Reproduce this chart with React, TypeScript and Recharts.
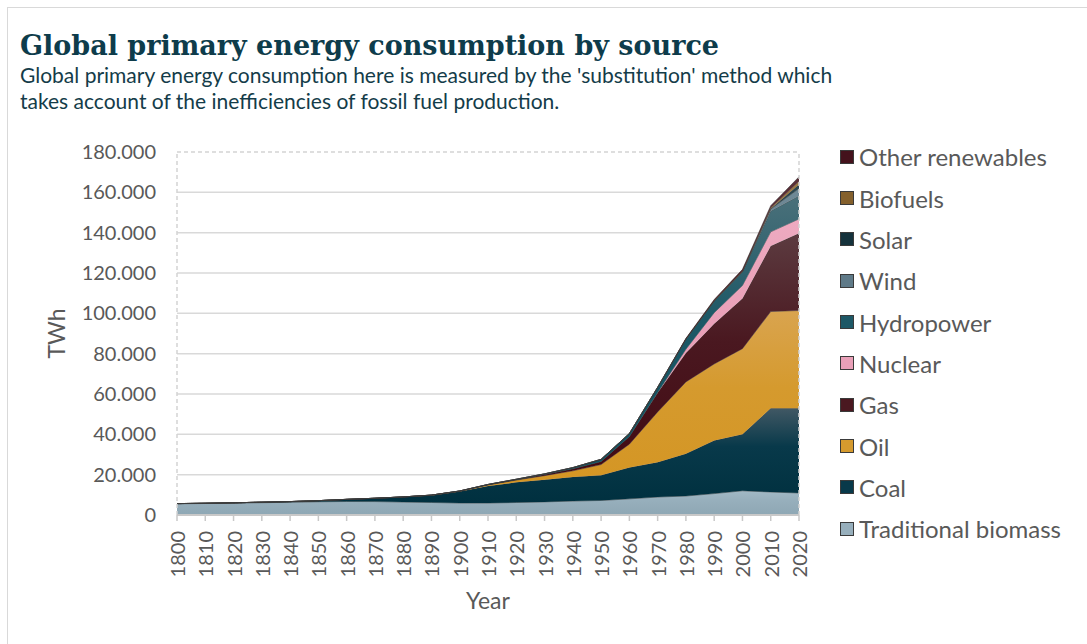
import React from 'react';
import { AreaChart, Area, XAxis, YAxis, CartesianGrid, ReferenceLine } from 'recharts';

// decade points, TWh (substitution method)
const years = [1800, 1810, 1820, 1830, 1840, 1850, 1860, 1870, 1880, 1890, 1900, 1910, 1920, 1930, 1940, 1950, 1960, 1970, 1980, 1990, 2000, 2010, 2020];

const traditionalBiomass = [5556, 5700, 5900, 6100, 6300, 6550, 6700, 6650, 6400, 6200, 5900, 5900, 6200, 6500, 6900, 7200, 8000, 8900, 9400, 10600, 12000, 11400, 10900];
const coal = [97, 130, 150, 260, 360, 570, 1060, 1640, 2540, 3520, 5730, 8500, 10000, 11000, 12000, 12500, 15500, 17200, 21000, 26300, 28000, 41500, 42000];
const oil = [0, 0, 0, 0, 0, 0, 0, 10, 30, 90, 180, 500, 1100, 2000, 3000, 5300, 11600, 25000, 35600, 38000, 42500, 48000, 48500];
const gas = [0, 0, 0, 0, 0, 0, 0, 0, 0, 60, 60, 150, 230, 550, 1000, 1500, 3800, 9500, 14300, 19900, 24800, 32500, 38300];
const nuclear = [0, 0, 0, 0, 0, 0, 0, 0, 0, 0, 0, 0, 0, 0, 0, 0, 0, 200, 1900, 5500, 6500, 7000, 7100];
const hydropower = [0, 0, 0, 0, 0, 0, 0, 0, 0, 0, 50, 100, 200, 350, 600, 1100, 1500, 2500, 5000, 5800, 6800, 10300, 11500];
const wind = [0, 0, 0, 0, 0, 0, 0, 0, 0, 0, 0, 0, 0, 0, 0, 0, 0, 0, 0, 10, 100, 1000, 3600];
const solar = [0, 0, 0, 0, 0, 0, 0, 0, 0, 0, 0, 0, 0, 0, 0, 0, 0, 0, 0, 0, 5, 100, 2000];
const biofuels = [0, 0, 0, 0, 0, 0, 0, 0, 0, 0, 0, 0, 0, 0, 0, 0, 0, 0, 100, 200, 300, 600, 1600];
const otherRenewables = [0, 0, 0, 0, 0, 0, 0, 0, 0, 0, 0, 0, 0, 0, 0, 0, 0, 100, 300, 500, 800, 1000, 2200];

const yTicks = [0, 20000, 40000, 60000, 80000, 100000, 120000, 140000, 160000, 180000];

// bottom to top, with gradient stops (top colour, mid colour, bottom colour)
const series = [
  { key: 'trad', name: 'Traditional biomass', values: traditionalBiomass, colors: ['#a2b9c5', '#97afbc', '#8ea7b4'] },
  { key: 'coal', name: 'Coal', values: coal, colors: ['#415864', '#08394a', '#00303f'] },
  { key: 'oil', name: 'Oil', values: oil, colors: ['#d9a44f', '#d59a2e', '#d49522'] },
  { key: 'gas', name: 'Gas', values: gas, colors: ['#5c3b40', '#4a1820', '#400710'] },
  { key: 'nuclear', name: 'Nuclear', values: nuclear, colors: ['#eeaac0', '#e9a0b8', '#e597b0'] },
  { key: 'hydro', name: 'Hydropower', values: hydropower, colors: ['#4a707a', '#1d5866', '#0a4f5e'] },
  { key: 'wind', name: 'Wind', values: wind, colors: ['#6f8996', '#5f7a88', '#55707e'] },
  { key: 'solar', name: 'Solar', values: solar, colors: ['#2c4750', '#15323c', '#0a2730'] },
  { key: 'biofuels', name: 'Biofuels', values: biofuels, colors: ['#9a7842', '#84602c', '#74511c'] },
  { key: 'other', name: 'Other renewables', values: otherRenewables, colors: ['#5a3038', '#44121c', '#3a0812'] },
];

const rows = years.map((year, i) => {
  const row: Record<string, number> = { year };
  series.forEach(s => { row[s.key] = s.values[i]; });
  return row;
});

const grey = '#595959';
const fmt = (v: number) => (v === 0 ? '0' : v.toLocaleString('de-DE'));

const YearTick = (props: any) => {
  const { x, y, payload } = props;
  return (
    <text
      x={x}
      y={y}
      transform={`rotate(-90, ${x}, ${y})`}
      textAnchor="end"
      dominantBaseline="central"
      fill={grey}
      fontSize={20}
      fontFamily="Lato"
    >
      {payload.value}
    </text>
  );
};

export default function App() {
  return (
    <div
      style={{
        position: 'absolute',
        left: 7,
        top: 7,
        width: 1080,
        height: 637,
        boxSizing: 'border-box',
        borderLeft: '1px solid #d9d9d9',
        borderTop: '1px solid #d9d9d9',
        background: '#fff',
        overflow: 'hidden',
        fontFamily: 'Lato',
      }}
    >
      <div
        style={{
          position: 'absolute',
          left: 12,
          top: 24,
          fontFamily: '"DejaVu Serif"',
          fontWeight: 'bold',
          fontSize: 27,
          lineHeight: '27px',
          color: '#0e3c4b',
          whiteSpace: 'nowrap',
        }}
      >
        Global primary energy consumption by source
      </div>
      <div
        style={{
          position: 'absolute',
          left: 12,
          top: 54,
          fontSize: 21,
          lineHeight: '26px',
          color: '#143c49',
          whiteSpace: 'nowrap',
        }}
      >
        Global primary energy consumption here is measured by the 'substitution' method which
        <br />
        takes account of the inefficiencies of fossil fuel production.
      </div>

      <div style={{ position: 'absolute', left: 1, top: 1 }}>
        <AreaChart
          width={1072}
          height={630}
          data={rows}
          margin={{ top: 143, right: 282, bottom: 24, left: 40 }}
        >
          <defs>
            {series.map(s => (
              <linearGradient key={s.key} id={`g-${s.key}`} x1="0" y1="0" x2="0" y2="1">
                <stop offset="0%" stopColor={s.colors[0]} />
                <stop offset="40%" stopColor={s.colors[1]} />
                <stop offset="100%" stopColor={s.colors[2]} />
              </linearGradient>
            ))}
          </defs>
          <CartesianGrid
            vertical={false}
            stroke="#d9d9d9"
            strokeWidth={1.5}
            horizontalValues={yTicks.slice(1, -1)}
          />
          <ReferenceLine y={180000} stroke="#d4d4d4" strokeDasharray="4 3" strokeWidth={1.5} />
          <ReferenceLine x={1800} stroke="#d4d4d4" strokeDasharray="4 3" strokeWidth={1.5} />
          <ReferenceLine x={2020} stroke="#d4d4d4" strokeDasharray="4 3" strokeWidth={1.5} />
          <XAxis
            dataKey="year"
            type="number"
            domain={[1800, 2020]}
            ticks={years}
            interval={0}
            height={100}
            tick={<YearTick />}
            tickSize={6}
            tickMargin={10}
            axisLine={{ stroke: '#c8c8c8', strokeWidth: 2 }}
            tickLine={{ stroke: '#c8c8c8', strokeWidth: 1.5 }}
            label={{
              value: 'Year',
              position: 'insideBottom',
              offset: 6,
              style: { fill: grey, fontSize: 23, fontFamily: 'Lato' },
            }}
          />
          <YAxis
            domain={[0, 180000]}
            ticks={yTicks}
            interval={0}
            width={128}
            tickFormatter={fmt}
            axisLine={false}
            tickLine={false}
            tickSize={6}
            tickMargin={15}
            tick={{ fill: grey, fontSize: 20, fontFamily: 'Lato' }}
            label={{
              value: 'TWh',
              angle: -90,
              position: 'insideLeft',
              offset: 8,
              style: { fill: grey, fontSize: 23, fontFamily: 'Lato', textAnchor: 'middle' },
            }}
          />
          {series.map(s => (
            <Area
              key={s.key}
              type="linear"
              dataKey={s.key}
              name={s.name}
              stackId="1"
              fill={`url(#g-${s.key})`}
              fillOpacity={1}
              stroke="#3a3a3a"
              strokeOpacity={0.55}
              strokeWidth={1}
              isAnimationActive={false}
            />
          ))}
        </AreaChart>
      </div>

      {/* legend, top entry is the top layer */}
      <div style={{ position: 'absolute', left: 832, top: 128 }}>
        {[...series].reverse().map(s => (
          <div key={s.key} style={{ display: 'flex', alignItems: 'center', height: 41.35 }}>
            <div
              style={{
                width: 12,
                height: 12,
                background: s.colors[1],
                border: '1px solid #3a3a3a',
                marginRight: 5,
              }}
            />
            <span style={{ fontSize: 24, color: grey, whiteSpace: 'nowrap' }}>{s.name}</span>
          </div>
        ))}
      </div>
    </div>
  );
}
